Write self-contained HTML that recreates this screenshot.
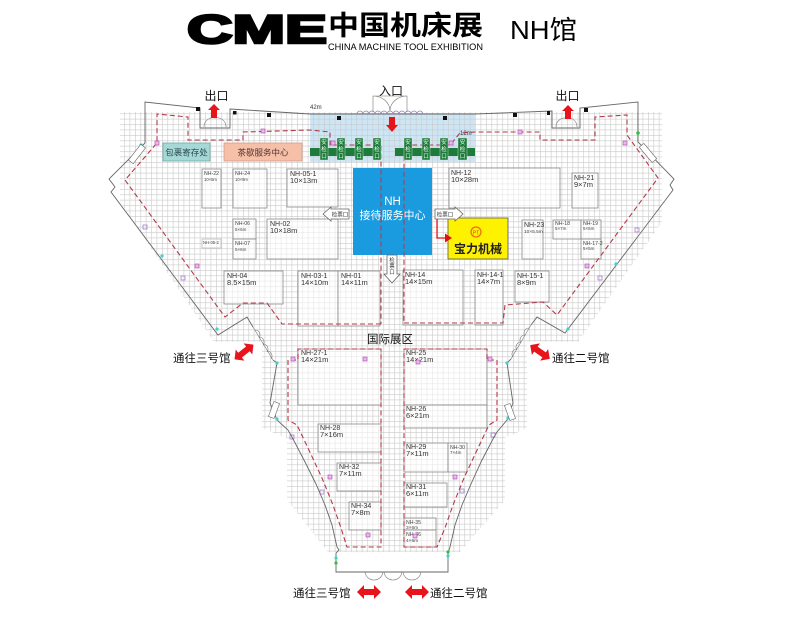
<!DOCTYPE html>
<html><head><meta charset="utf-8"><style>
html,body{margin:0;padding:0;background:#fff;}
svg{display:block;}
text{font-family:"Liberation Sans","Noto Sans CJK SC",sans-serif;}
</style></head><body>
<svg width="800" height="632" viewBox="0 0 800 632" xmlns="http://www.w3.org/2000/svg">
<defs>
<pattern id="g" width="5.4" height="5.4" patternUnits="userSpaceOnUse">
<path d="M0 0.3H5.4M0.3 0V5.4" stroke="#c9c9c9" stroke-width="0.6" fill="none"/>
</pattern>
</defs>
<rect width="800" height="632" fill="#fff"/>

<!-- header -->
<text x="187" y="43" font-size="40" font-weight="bold" textLength="140" lengthAdjust="spacingAndGlyphs" stroke="#000" stroke-width="2.5" fill="#000">CME</text>
<text x="328" y="35" font-size="27" font-weight="bold" textLength="155" lengthAdjust="spacingAndGlyphs" fill="#000">中国机床展</text>
<text x="328" y="50" font-size="9.5" textLength="155" lengthAdjust="spacingAndGlyphs" fill="#000">CHINA MACHINE TOOL EXHIBITION</text>
<text x="510" y="39" font-size="26" textLength="67" lengthAdjust="spacingAndGlyphs" fill="#000">NH馆</text>

<!-- entrance blue area -->
<rect x="310" y="113" width="165" height="49" fill="#cde6f6"/>

<!-- grid -->
<polygon points="120,112 662,112 662,222 578,342 527,342 527,428 505,438 505,500 460,552 328,552 287,500 287,438 262,428 262,342 214,342 120,202" fill="url(#g)"/>

<!-- service boxes -->
<rect x="163" y="143" width="47" height="18" fill="#a6d9d6" stroke="#6aaaa8" stroke-width="0.8"/>
<text x="186.5" y="155.5" font-size="8.5" text-anchor="middle" fill="#2a4a50">包裹寄存处</text>
<rect x="224" y="143" width="78" height="18" fill="#f5bfa8" stroke="#d89a88" stroke-width="0.8"/>
<text x="263" y="155.5" font-size="8.5" text-anchor="middle" fill="#553530">茶歇服务中心</text>

<!-- booths -->
<g fill="#fff" fill-opacity="0.55" stroke="#8a8a8a" stroke-width="0.8">
<rect x="202" y="169" width="19" height="39"/>
<rect x="233" y="169" width="34" height="39"/>
<rect x="287" y="169" width="51" height="38"/>
<rect x="233" y="219" width="23" height="20"/>
<rect x="233" y="239" width="23" height="20"/>
<rect x="202" y="239" width="19" height="9" stroke="#bbb"/>
<rect x="267" y="219" width="71" height="40"/>
<rect x="224" y="271" width="59" height="33"/>
<rect x="298" y="271" width="40" height="55"/>
<rect x="338" y="271" width="42" height="55"/>
<rect x="449" y="168" width="111" height="40"/>
<rect x="572" y="173" width="26" height="35"/>
<rect x="522" y="220" width="21" height="39"/>
<rect x="553" y="220" width="28" height="19"/>
<rect x="581" y="220" width="20" height="19"/>
<rect x="581" y="239" width="20" height="20"/>
<rect x="403" y="270" width="60" height="55"/>
<rect x="475" y="270" width="28" height="55"/>
<rect x="515" y="271" width="34" height="31"/>
<rect x="298" y="349" width="83" height="56"/>
<rect x="404" y="349" width="83" height="56"/>
<rect x="404" y="405" width="83" height="23"/>
<rect x="318" y="424" width="63" height="28"/>
<rect x="404" y="443" width="44" height="29"/>
<rect x="448" y="443" width="19" height="29"/>
<rect x="337" y="463" width="44" height="28"/>
<rect x="404" y="483" width="43" height="24"/>
<rect x="349" y="502" width="32" height="28"/>
<rect x="404" y="518" width="32" height="12"/>
<rect x="404" y="530" width="32" height="17"/>
</g>

<g fill="#333" font-size="7">
<text x="290" y="176">NH-05-1</text><text x="290" y="183" font-size="7.5">10×13m</text>
<text x="270" y="226">NH-02</text><text x="270" y="233" font-size="7.5">10×18m</text>
<text x="227" y="278">NH-04</text><text x="227" y="285" font-size="7.5">8.5×15m</text>
<text x="301" y="278">NH-03-1</text><text x="301" y="285" font-size="7.5">14×10m</text>
<text x="341" y="278">NH-01</text><text x="341" y="285" font-size="7.5">14×11m</text>
<text x="451" y="175">NH-12</text><text x="451" y="182" font-size="7.5">10×28m</text>
<text x="574" y="180">NH-21</text><text x="574" y="187" font-size="7.5">9×7m</text>
<text x="405" y="277">NH-14</text><text x="405" y="284" font-size="7.5">14×15m</text>
<text x="477" y="277">NH-14-1</text><text x="477" y="284" font-size="7.5">14×7m</text>
<text x="517" y="278">NH-15-1</text><text x="517" y="285" font-size="7.5">8×9m</text>
<text x="524" y="227">NH-23</text>
<text x="301" y="355">NH-27-1</text><text x="301" y="362" font-size="7.5">14×21m</text>
<text x="406" y="355">NH-25</text><text x="406" y="362" font-size="7.5">14×21m</text>
<text x="406" y="411">NH-26</text><text x="406" y="418" font-size="7.5">6×21m</text>
<text x="320" y="430">NH-28</text><text x="320" y="437" font-size="7.5">7×16m</text>
<text x="406" y="449">NH-29</text><text x="406" y="456" font-size="7.5">7×11m</text>
<text x="339" y="469">NH-32</text><text x="339" y="476" font-size="7.5">7×11m</text>
<text x="406" y="489">NH-31</text><text x="406" y="496" font-size="7.5">6×11m</text>
<text x="351" y="508">NH-34</text><text x="351" y="515" font-size="7.5">7×8m</text>
</g>
<g fill="#444" font-size="5.2">
<text x="204" y="175">NH-22</text><text x="204" y="181" font-size="4.2">10×5m</text>
<text x="235" y="175">NH-24</text><text x="235" y="181" font-size="4.2">10×9m</text>
<text x="235" y="225">NH-06</text><text x="235" y="231" font-size="4.5">5×6m</text>
<text x="235" y="245">NH-07</text><text x="235" y="251" font-size="4.5">5×6m</text>
<text x="203" y="244" font-size="4.2">NH-05-2</text>
<text x="524" y="233" font-size="4.8">10×5.5m</text>
<text x="555" y="225">NH-18</text><text x="555" y="230" font-size="4.5">5×7m</text>
<text x="583" y="225">NH-19</text><text x="583" y="230" font-size="4.5">5×5m</text>
<text x="583" y="245">NH-17-2</text><text x="583" y="250" font-size="4.5">5×5m</text>
<text x="450" y="449">NH-30</text><text x="450" y="454" font-size="4.5">7×4m</text>
<text x="406" y="524">NH-35</text><text x="406" y="529" font-size="4.8">3×6m</text>
<text x="406" y="536">NH-36</text><text x="406" y="542" font-size="4.8">4×6m</text>
</g>

<!-- center service -->
<rect x="353" y="168" width="79" height="87" fill="#1a9be0"/>
<text x="392.5" y="205" font-size="11.5" text-anchor="middle" fill="#fff">NH</text>
<text x="392.5" y="219" font-size="11" text-anchor="middle" fill="#fff">接待服务中心</text>

<!-- 宝力机械 -->
<rect x="448" y="218" width="60" height="41" fill="#fff200" stroke="#555" stroke-width="0.8"/>
<circle cx="476" cy="232" r="5" fill="#fff200" stroke="#e87010" stroke-width="1.3"/>
<text x="476" y="234.5" font-size="5" text-anchor="middle" fill="#c05010">PT</text>
<text x="478" y="253" font-size="12" font-weight="bold" text-anchor="middle" fill="#222">宝力机械</text>
<path d="M437,219 V238 H446" stroke="#e01010" stroke-width="1.2" fill="none"/>
<polygon points="445,233.5 452,238 445,242.5" fill="#e01010"/>

<!-- ticket arrows -->
<polygon points="323,214 331,207 331,209 349,209 349,219 331,219 331,221" fill="#fff" stroke="#666" stroke-width="0.8"/>
<text x="340" y="216.5" font-size="5.5" text-anchor="middle" fill="#333">检票口</text>
<polygon points="435,209 455,209 455,207 463,214 455,221 455,219 435,219" fill="#fff" stroke="#666" stroke-width="0.8"/>
<text x="445" y="216.5" font-size="5.5" text-anchor="middle" fill="#333">检票口</text>
<polygon points="387,255 397,255 397,274 400,274 392,283 384,274 387,274" fill="#fff" stroke="#666" stroke-width="0.8"/>
<g font-size="5.5" fill="#333" text-anchor="middle"><text x="392" y="262">检</text><text x="392" y="268">票</text><text x="392" y="274">口</text></g>

<!-- dashed route -->
<g fill="none" stroke="#b33a4a" stroke-width="1.1" stroke-dasharray="5 3">
<path d="M381,324 L282,324 L267,303 L243,303 L225,317 L125,180 L157,143 L157,114 L188,117 L188,140 L243,140 L243,132 L310,130 L330,132 L330,145 L381,145 L381,324"/>
<path d="M404,323 L503,323 L505,305 L543,302 L557,315 L658,178 L627,135 L627,115 L595,117 L595,140 L540,140 L540,132 L475,132 L460,133 L450,145 L404,145 L404,323"/>
<path d="M381,349 L298,349 L298,360 L288,360 L288,420 L297,425 L308,448 L322,478 L333,505 L341,528 L347,547 L381,547 Z"/>
<path d="M404,349 L487,349 L487,360 L497,360 L497,420 L489,425 L478,448 L464,478 L453,505 L445,528 L437,547 L404,547 Z"/>
</g>

<!-- security booths -->
<g fill="#1e7b3c">
<rect x="310" y="148" width="10" height="8"/><rect x="328" y="148" width="9" height="8"/><rect x="345" y="148" width="10" height="8"/><rect x="363" y="148" width="10" height="8"/>
<rect x="395" y="148" width="9" height="8"/><rect x="412" y="148" width="10" height="8"/><rect x="430" y="148" width="10" height="8"/><rect x="448" y="148" width="10" height="8"/><rect x="467" y="148" width="8" height="8"/>
</g>
<g fill="#1e7b3c" stroke="#e8f5e8" stroke-width="0.4">
<rect x="320" y="138" width="8" height="22"/><rect x="337" y="138" width="8" height="22"/><rect x="355" y="138" width="8" height="22"/><rect x="373" y="138" width="8" height="22"/>
<rect x="404" y="138" width="8" height="22"/><rect x="422" y="138" width="8" height="22"/><rect x="440" y="138" width="8" height="22"/><rect x="458" y="138" width="9" height="22"/>
</g>
<g fill="#fff" font-size="5.5" text-anchor="middle">
<text x="324" y="144">安</text><text x="324" y="151">检</text><text x="324" y="158">口</text>
<text x="341" y="144">安</text><text x="341" y="151">检</text><text x="341" y="158">口</text>
<text x="359" y="144">安</text><text x="359" y="151">检</text><text x="359" y="158">口</text>
<text x="377" y="144">安</text><text x="377" y="151">检</text><text x="377" y="158">口</text>
<text x="408" y="144">安</text><text x="408" y="151">检</text><text x="408" y="158">口</text>
<text x="426" y="144">安</text><text x="426" y="151">检</text><text x="426" y="158">口</text>
<text x="444" y="144">安</text><text x="444" y="151">检</text><text x="444" y="158">口</text>
<text x="462.5" y="144">安</text><text x="462.5" y="151">检</text><text x="462.5" y="158">口</text>
</g>

<!-- walls -->
<g fill="none" stroke="#666" stroke-width="0.9">
<path d="M145,143 L145,102 L200,108 L200,128 L230,128 L230,109 L310,114 L475,114 L552,111 L552,128 L580,128 L580,108 L638,102 L638,142 L674,179 L670,185 L673,190 L565,333 L537,317 L531,325"/>
<path d="M145,143 L109,179 L115,187 L111,192 L218,335 L247,317 L253,327"/>
<path d="M273,360 L277,363 L270,403 L277,420 L288,430 L292,437 L305,462 L316,484 L325,505 L332,525 L337,547 L339,550 L336,553 L336,572 L448,572 L448,553 L450,547 L455,525 L462,505 L471,484 L481,462 L494,437 L497,432 L507,420 L513,403 L507,363 L511,359"/>
</g>
<!-- door swings -->
<g fill="none" stroke="#777" stroke-width="0.6">
<path d="M253,327 L273,360"/>
<path d="M255,330 a5,5 0 0 1 4,8 M259,337 a5,5 0 0 1 4,8 M263,344 a5,5 0 0 1 4,8 M267,351 a5,5 0 0 1 4,8"/>
<path d="M531,325 L511,359"/>
<path d="M529,328 a5,5 0 0 0 -4,8 M525,335 a5,5 0 0 0 -4,8 M521,342 a5,5 0 0 0 -4,8 M517,349 a5,5 0 0 0 -4,8"/>
<path d="M373,112 V96 A17,15 0 0 1 390,111 M407,112 V96 A17,15 0 0 0 390,111 M373,96 H407"/>
<path d="M204,127 A9,9 0 0 1 215,118 M226,127 A9,9 0 0 0 215,118"/>
<path d="M556,127 A9,9 0 0 1 566,118 M577,127 A9,9 0 0 0 566,118"/>
<path d="M365,572 a9,9 0 0 0 9,8 M383,572 a9,9 0 0 1 -9,8 M384,572 a9,9 0 0 0 9,8 M402,572 a9,9 0 0 1 -9,8 M403,572 a9,9 0 0 0 9,8 M421,572 a9,9 0 0 1 -9,8"/>
</g>
<path d="M357,114 a3,3 0 0 1 6,0 a3,3 0 0 1 6,0 a3,3 0 0 1 6,0 a3,3 0 0 1 6,0 a3,3 0 0 1 6,0 a3,3 0 0 1 6,0 a3,3 0 0 1 6,0 a3,3 0 0 1 6,0 a3,3 0 0 1 6,0 a3,3 0 0 1 6,0 a3,3 0 0 1 6,0" fill="none" stroke="#9a7ab8" stroke-width="0.7"/>

<!-- columns -->
<g fill="#111">
<rect x="196" y="107" width="4" height="4"/><rect x="233" y="111" width="3.5" height="3.5"/><rect x="267" y="113" width="4" height="4"/>
<rect x="337" y="116" width="4" height="4"/><rect x="443" y="116" width="4" height="4"/><rect x="513" y="113" width="4" height="4"/>
<rect x="547" y="111" width="3" height="4"/><rect x="584" y="108" width="4" height="4"/>
</g>

<!-- markers -->
<g fill="#eab8ea" stroke="#b040b0" stroke-width="0.6">
<rect x="155" y="141" width="4" height="4"/><rect x="261" y="129" width="4" height="4"/><rect x="331" y="141" width="4" height="4"/>
<rect x="449" y="141" width="4" height="4"/><rect x="518" y="130" width="4" height="4"/><rect x="623" y="141" width="4" height="4"/>
<rect x="195" y="264" width="4" height="4"/><rect x="585" y="264" width="4" height="4"/>
<rect x="291" y="357" width="4" height="4"/><rect x="363" y="357" width="4" height="4"/><rect x="416" y="360" width="4" height="4"/><rect x="488" y="357" width="4" height="4"/>
<rect x="328" y="475" width="4" height="4"/><rect x="366" y="533" width="4" height="4"/><rect x="413" y="534" width="4" height="4"/><rect x="453" y="475" width="4" height="4"/>
</g>
<g fill="none" stroke="#8a5ab8" stroke-width="0.6">
<rect x="143" y="225" width="4" height="4"/><rect x="181" y="276" width="4" height="4"/><rect x="635" y="228" width="4" height="4"/><rect x="598" y="276" width="4" height="4"/>
<rect x="290" y="435" width="4" height="4"/><rect x="491" y="433" width="4" height="4"/><rect x="320" y="490" width="4" height="4"/><rect x="460" y="489" width="4" height="4"/>
</g>
<g fill="#40d0d0">
<circle cx="141" cy="145" r="1.6"/><circle cx="162" cy="256" r="1.6"/><circle cx="217" cy="329" r="1.6"/>
<circle cx="616" cy="264" r="1.6"/><circle cx="568" cy="329" r="1.6"/>
<circle cx="277" cy="363" r="1.6"/><circle cx="277" cy="419" r="1.6"/><circle cx="507" cy="363" r="1.6"/><circle cx="508" cy="418" r="1.6"/>
<circle cx="336" cy="558" r="1.6"/><circle cx="448" cy="556" r="1.6"/>
</g>
<g fill="#30c040"><circle cx="638" cy="133" r="1.8"/><circle cx="336" cy="563" r="1.6"/><circle cx="448" cy="552" r="1.6"/></g>

<!-- stair labels -->
<g fill="#fff" stroke="#666" stroke-width="0.6">
<rect x="-10" y="-3" width="20" height="6" transform="translate(137,154) rotate(-52)"/>
<rect x="-10" y="-3" width="20" height="6" transform="translate(648,153) rotate(50)"/>
<rect x="-8" y="-3" width="16" height="6" transform="translate(274,410) rotate(-70)"/>
<rect x="-8" y="-3" width="16" height="6" transform="translate(510,412) rotate(70)"/>
</g>

<!-- small dimension labels -->
<text x="310" y="109" font-size="6" fill="#333">42m</text>
<text x="460" y="135" font-size="6" fill="#333">12m</text>

<!-- labels -->
<text x="391" y="95" font-size="12" text-anchor="middle" fill="#111">入口</text>
<text x="216.5" y="100" font-size="12" text-anchor="middle" fill="#111">出口</text>
<text x="567.5" y="100" font-size="12" text-anchor="middle" fill="#111">出口</text>
<text x="390" y="343" font-size="11.5" text-anchor="middle" fill="#111">国际展区</text>
<text x="173" y="362" font-size="11.5" fill="#111">通往三号馆</text>
<text x="552" y="362" font-size="11.5" fill="#111">通往二号馆</text>
<text x="293" y="597" font-size="11.5" fill="#111">通往三号馆</text>
<text x="430" y="597" font-size="11.5" fill="#111">通往二号馆</text>

<!-- red arrows -->
<g fill="#e8141b">
<polygon points="214,104 220,110 217,110 217,118 211,118 211,110 208,110"/>
<polygon points="568,105 574,111 571,111 571,119 565,119 565,111 562,111"/>
<polygon points="389,117 395,117 395,125 398,125 392,132 386,125 389,125"/>
<polygon points="-12,0 -5,-7 -5,-3 5,-3 5,-7 12,0 5,7 5,3 -5,3 -5,7" transform="translate(244,352) rotate(-38)"/>
<polygon points="-12,0 -5,-7 -5,-3 5,-3 5,-7 12,0 5,7 5,3 -5,3 -5,7" transform="translate(540,352) rotate(35)"/>
<polygon points="-12,0 -5,-7 -5,-3 5,-3 5,-7 12,0 5,7 5,3 -5,3 -5,7" transform="translate(369,592)"/>
<polygon points="-12,0 -5,-7 -5,-3 5,-3 5,-7 12,0 5,7 5,3 -5,3 -5,7" transform="translate(417,592)"/>
</g>
</svg>
</body></html>
